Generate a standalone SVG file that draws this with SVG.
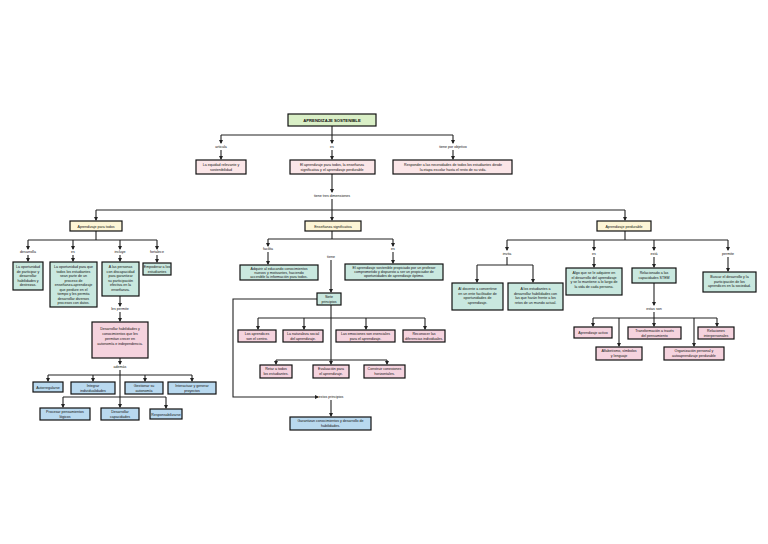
<svg xmlns="http://www.w3.org/2000/svg" width="768" height="544" viewBox="0 0 768 544">
<style>
rect{stroke:#111;stroke-width:1.2}
.g{fill:#d9efc6}.y{fill:#fdf5d6}.p{fill:#fbe6e8}.k{fill:#f5d3de}.t{fill:#c9e8df}.b{fill:#b9d9ef}
text{font-family:"Liberation Sans",Arial,sans-serif;font-size:3.6px;text-anchor:middle;fill:#111}
.l{font-size:3.4px}
#c path{fill:none;stroke:#222;stroke-width:1.1;marker-end:url(#a)}
#c path.n{marker-end:none}
</style>
<defs><marker id="a" markerWidth="4" markerHeight="4" refX="3" refY="2" orient="auto" markerUnits="userSpaceOnUse"><path d="M0,0L4,2L0,4z" fill="#222"/></marker></defs>
<rect width="768" height="544" style="fill:#fff;stroke:none"/>
<g id="c">
<path class="n" d="M332,126V135M221,135H453"/><path d="M221,135V143"/><path d="M332,135V143"/><path d="M453,135V143"/>
<path d="M221,150V159"/><path d="M332,150V159"/><path d="M453,150V159"/>
<path d="M332,174V192"/><path class="n" d="M332,199V210M96,210H625"/><path d="M96,210V220"/><path d="M332,210V220"/><path d="M625,210V220"/>
<path class="n" d="M96,231V240M28,240H157"/><path d="M28,240V249"/><path d="M73,240V249"/><path d="M120,240V249"/><path d="M157,240V249"/>
<path d="M28,255V261"/><path d="M73,255V261"/><path d="M120,255V261"/><path d="M157,255V262"/>
<path d="M120,296V306"/><path d="M120,312V321"/><path d="M120,358V364"/>
<path class="n" d="M120,370V404M48,375H192"/><path d="M48,375V381"/><path d="M93,375V381"/><path d="M145,375V381"/><path d="M192,375V381"/>
<path class="n" d="M63,397H166"/><path d="M63,397V407"/><path d="M120,404V407"/><path d="M166,397V408"/>
<path class="n" d="M332,231V239M268,239H393"/><path d="M268,239V246"/><path d="M393,239V246"/><path d="M268,252V264"/><path d="M393,252V263"/>
<path d="M331,260V292"/><path class="n" d="M331,305V360M258,318H425"/><path d="M258,318V329"/><path d="M304,318V329"/><path d="M366,318V329"/><path d="M425,318V329"/>
<path class="n" d="M276,360H387"/><path d="M276,360V364"/><path d="M331,360V364"/><path d="M387,360V364"/>
<path d="M317,299H233V397H318"/><path d="M331,400V416"/>
<path class="n" d="M625,231V240M507,240H728"/><path d="M507,240V250"/><path d="M594,240V250"/><path d="M654,240V250"/><path d="M728,240V250"/>
<path class="n" d="M507,257V265M477,265H533"/><path d="M477,265V282"/><path d="M533,265V282"/>
<path d="M594,257V267"/><path d="M654,257V267"/><path d="M728,257V271"/>
<path d="M654,283V305"/><path class="n" d="M654,312V318M593,318H717"/><path d="M593,318V326"/><path d="M654,318V326"/><path d="M717,318V326"/>
<path d="M619,318V346"/><path d="M694,318V346"/>
</g>
<g id="title"><rect class="g" x="288" y="114" width="88" height="12"/><text x="332" y="122" style="font-weight:bold;font-size:4.2px">APRENDIZAJE SOSTENIBLE</text></g>
<g id="labels" class="l">
<text x="221" y="148">articula</text><text x="332" y="148">es</text><text x="453" y="148">tiene por objetivo</text>
<text x="332" y="197">tiene tres dimensiones</text>
<text x="28" y="253">desarrolla</text><text x="73" y="253">es</text><text x="120" y="253">incluye</text><text x="157" y="253">fortalece</text>
<text x="120" y="310">les permite</text><text x="120" y="368">además</text>
<text x="268" y="250">facilita</text><text x="331" y="258">tiene</text><text x="393" y="250">es</text>
<text x="331" y="398">estos principios</text>
<text x="507" y="255">invita</text><text x="594" y="255">es</text><text x="654" y="255">está</text><text x="728" y="255">permite</text>
<text x="654" y="310">estas son</text>
</g>
<g id="n1"><rect class="p" x="196" y="160" width="50" height="14"/><text x="221" y="166">La equidad relevante y<tspan x="221" dy="4.5">sostenibilidad</tspan></text></g>
<g id="n2"><rect class="p" x="290" y="160" width="85" height="14"/><text x="332" y="166">El aprendizaje para todos, la enseñanza<tspan x="332" dy="4.5">significativa y el aprendizaje perdurable</tspan></text></g>
<g id="n3"><rect class="p" x="393" y="160" width="119" height="14"/><text x="453" y="166">Responder a las necesidades de todos los estudiantes desde<tspan x="453" dy="4.5">la etapa escolar hasta el resto de su vida.</tspan></text></g>
<g id="d1"><rect class="y" x="70" y="221" width="52" height="10"/><text x="96" y="227.5">Aprendizaje para todos</text></g>
<g id="d2"><rect class="y" x="305" y="221" width="56" height="10"/><text x="333" y="227.5">Enseñanza significativa</text></g>
<g id="d3"><rect class="y" x="597" y="221" width="54" height="10"/><text x="624" y="227.5">Aprendizaje perdurable</text></g>
<g id="a1"><rect class="t" x="13" y="262" width="30" height="28"/><text x="28" y="268">La oportunidad<tspan x="28" dy="4.5">de participar y</tspan><tspan x="28" dy="4.5">desarrollar</tspan><tspan x="28" dy="4.5">habilidades y</tspan><tspan x="28" dy="4.5">destrezas.</tspan></text></g>
<g id="a2"><rect class="t" x="50" y="262" width="47" height="45"/><text x="73.5" y="268">La oportunidad para que<tspan x="73.5" dy="4.5">todos los estudiantes</tspan><tspan x="73.5" dy="4.5">sean parte de un</tspan><tspan x="73.5" dy="4.5">proceso de</tspan><tspan x="73.5" dy="4.5">enseñanza-aprendizaje</tspan><tspan x="73.5" dy="4.5">que perdure en el</tspan><tspan x="73.5" dy="4.5">tiempo y les permita</tspan><tspan x="73.5" dy="4.5">desarrollar diversos</tspan><tspan x="73.5" dy="4.5">procesos con datos.</tspan></text></g>
<g id="a3"><rect class="t" x="102" y="262" width="37" height="34"/><text x="120.5" y="268">A las personas<tspan x="120.5" dy="4.5">con discapacidad</tspan><tspan x="120.5" dy="4.5">para garantizar</tspan><tspan x="120.5" dy="4.5">su participación</tspan><tspan x="120.5" dy="4.5">efectiva en la</tspan><tspan x="120.5" dy="4.5">enseñanza.</tspan></text></g>
<g id="a4"><rect class="t" x="143" y="263" width="28" height="12"/><text x="157" y="268">Empoderar a los<tspan x="157" dy="4.5">estudiantes</tspan></text></g>
<g id="a5"><rect class="k" x="92" y="322" width="56" height="36"/><text x="120" y="330">Desarrollar habilidades y<tspan x="120" dy="5">conocimientos que les</tspan><tspan x="120" dy="5">permitan crecer en</tspan><tspan x="120" dy="5">autonomía e independencia.</tspan></text></g>
<g id="b1"><rect class="b" x="33" y="382" width="30" height="10"/><text x="48" y="388.5">Autorregularse</text></g>
<g id="b2"><rect class="b" x="71" y="382" width="44" height="12"/><text x="93" y="387">Integrar<tspan x="93" dy="4.5">individualidades</tspan></text></g>
<g id="b3"><rect class="b" x="125" y="382" width="38" height="12"/><text x="144" y="387">Gestionar su<tspan x="144" dy="4.5">autonomía</tspan></text></g>
<g id="b4"><rect class="b" x="168" y="382" width="48" height="12"/><text x="192" y="387">Interactuar y generar<tspan x="192" dy="4.5">proyectos</tspan></text></g>
<g id="b5"><rect class="b" x="40" y="408" width="50" height="12"/><text x="65" y="413">Procesar pensamientos<tspan x="65" dy="4.5">lógicos</tspan></text></g>
<g id="b6"><rect class="b" x="101" y="408" width="38" height="12"/><text x="120" y="413">Desarrollar<tspan x="120" dy="4.5">capacidades</tspan></text></g>
<g id="b7"><rect class="b" x="150" y="409" width="32" height="10"/><text x="166" y="415.5">Responsabilizarse</text></g>
<g id="c1"><rect class="t" x="240" y="265" width="78" height="15"/><text x="279" y="269.5">Adquirir al educando conocimientos<tspan x="279" dy="4">nuevos y motivantes, haciendo</tspan><tspan x="279" dy="4">accesible la información para todos.</tspan></text></g>
<g id="c2"><rect class="t" x="345" y="264" width="98" height="16"/><text x="394" y="269">El aprendizaje sostenible propiciado por un profesor<tspan x="394" dy="4.2">comprometido y dispuesto a ser un propiciador de</tspan><tspan x="394" dy="4.2">oportunidades de aprendizaje óptimo.</tspan></text></g>
<g id="c3"><rect class="t" x="317" y="293" width="24" height="12"/><text x="329" y="298">Siete<tspan x="329" dy="4.5">principios</tspan></text></g>
<g id="p1"><rect class="k" x="238" y="330" width="38" height="12"/><text x="257" y="335">Los aprendices<tspan x="257" dy="4.5">son el centro.</tspan></text></g>
<g id="p2"><rect class="k" x="283" y="330" width="40" height="12"/><text x="303" y="335">La naturaleza social<tspan x="303" dy="4.5">del aprendizaje.</tspan></text></g>
<g id="p3"><rect class="k" x="336" y="330" width="59" height="12"/><text x="365.5" y="335">Las emociones son esenciales<tspan x="365.5" dy="4.5">para el aprendizaje.</tspan></text></g>
<g id="p4"><rect class="k" x="403" y="330" width="42" height="12"/><text x="424" y="335">Reconocer las<tspan x="424" dy="4.5">diferencias individuales.</tspan></text></g>
<g id="p5"><rect class="k" x="260" y="365" width="32" height="13"/><text x="276" y="370">Retar a todos<tspan x="276" dy="4.5">los estudiantes.</tspan></text></g>
<g id="p6"><rect class="k" x="313" y="365" width="36" height="13"/><text x="331" y="370">Evaluación para<tspan x="331" dy="4.5">el aprendizaje.</tspan></text></g>
<g id="p7"><rect class="k" x="364" y="365" width="41" height="13"/><text x="384.5" y="370">Construir conexiones<tspan x="384.5" dy="4.5">horizontales.</tspan></text></g>
<g id="c4"><rect class="b" x="290" y="417" width="81" height="13"/><text x="330.5" y="422">Garantizan conocimientos y desarrollo de<tspan x="330.5" dy="4.5">habilidades.</tspan></text></g>
<g id="r1"><rect class="t" x="452" y="283" width="51" height="27"/><text x="477.5" y="290">Al docente a convertirse<tspan x="477.5" dy="4.5">en un ente facilitador de</tspan><tspan x="477.5" dy="4.5">oportunidades de</tspan><tspan x="477.5" dy="4.5">aprendizaje.</tspan></text></g>
<g id="r2"><rect class="t" x="508" y="283" width="55" height="27"/><text x="535.5" y="290">A los estudiantes a<tspan x="535.5" dy="4.5">desarrollar habilidades con</tspan><tspan x="535.5" dy="4.5">las que harán frente a los</tspan><tspan x="535.5" dy="4.5">retos de un mundo actual.</tspan></text></g>
<g id="r3"><rect class="t" x="566" y="268" width="56" height="27"/><text x="594" y="274">Algo que se le adquiere en<tspan x="594" dy="4.5">el desarrollo del aprendizaje</tspan><tspan x="594" dy="4.5">y se lo mantiene a lo largo de</tspan><tspan x="594" dy="4.5">la vida de cada persona.</tspan></text></g>
<g id="r4"><rect class="t" x="632" y="268" width="44" height="15"/><text x="654" y="274">Relacionado a las<tspan x="654" dy="4.5">capacidades STEM</tspan></text></g>
<g id="r5"><rect class="t" x="703" y="272" width="53" height="20"/><text x="729.5" y="278">Buscar el desarrollo y la<tspan x="729.5" dy="4.5">participación de los</tspan><tspan x="729.5" dy="4.5">aprendices en la sociedad.</tspan></text></g>
<g id="s1"><rect class="k" x="574" y="327" width="38" height="11"/><text x="593" y="333.5">Aprendizaje activo</text></g>
<g id="s2"><rect class="k" x="628" y="327" width="53" height="12"/><text x="654.5" y="332">Transformación a través<tspan x="654.5" dy="4.5">del pensamiento</tspan></text></g>
<g id="s3"><rect class="k" x="698" y="327" width="36" height="12"/><text x="716" y="332">Relaciones<tspan x="716" dy="4.5">interpersonales</tspan></text></g>
<g id="s4"><rect class="k" x="596" y="347" width="46" height="13"/><text x="619" y="352">Alfabetismo, símbolos<tspan x="619" dy="4.5">y lenguaje</tspan></text></g>
<g id="s5"><rect class="k" x="664" y="347" width="60" height="13"/><text x="694" y="352">Organización personal y<tspan x="694" dy="4.5">autoaprendizaje perdurable</tspan></text></g>
</svg>
